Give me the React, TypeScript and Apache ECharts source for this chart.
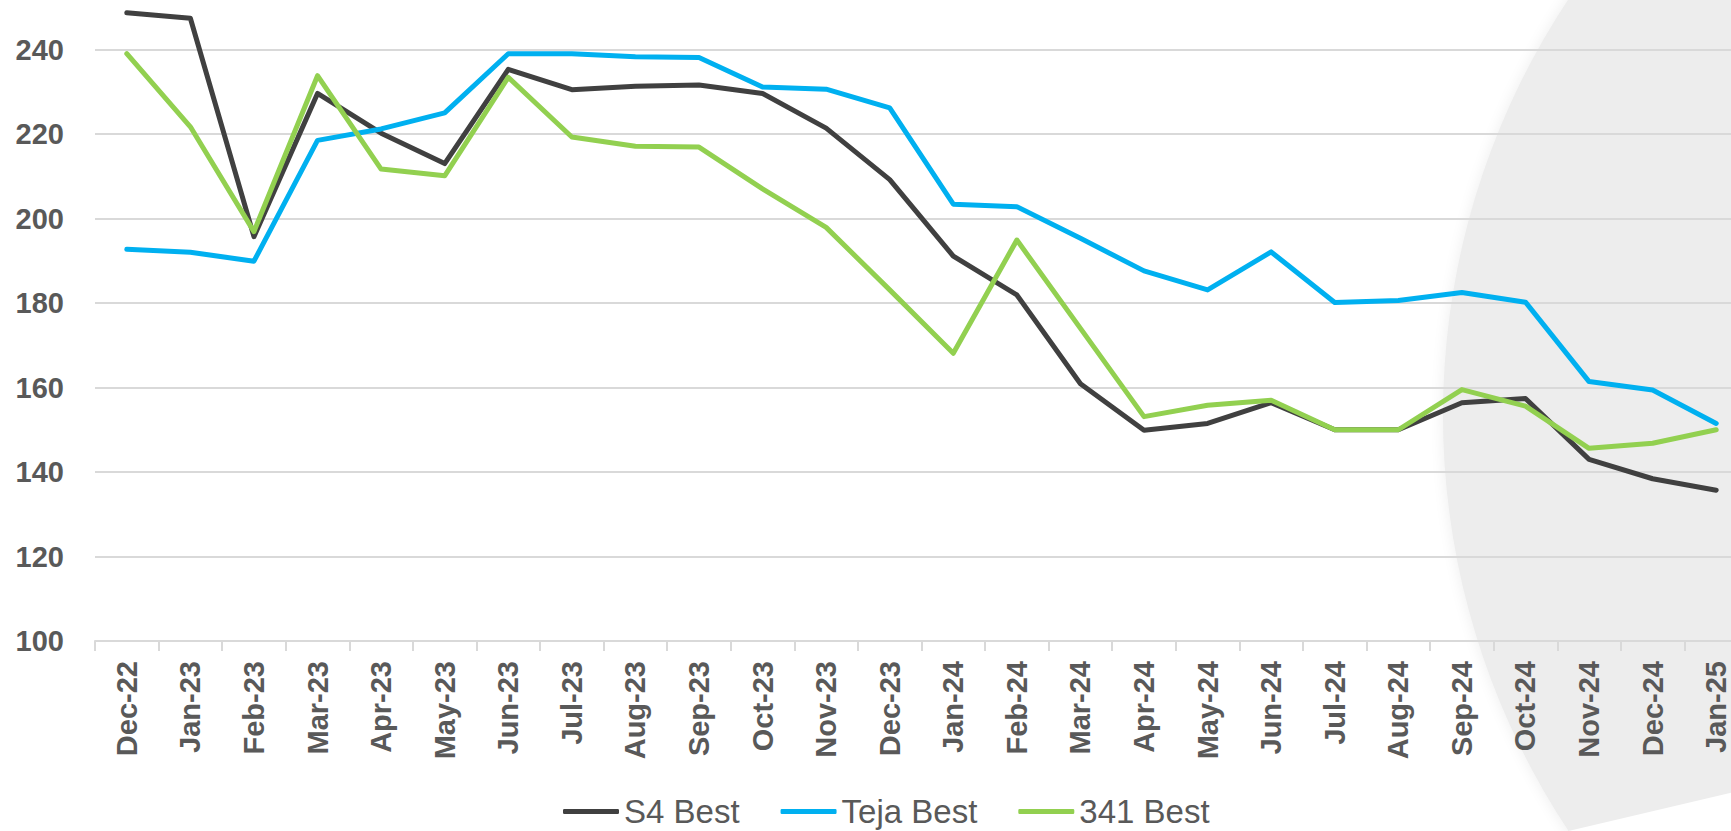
import React, { useEffect, useRef } from "react";
import * as echarts from "echarts";

const categories = [
  "Dec-22", "Jan-23", "Feb-23", "Mar-23", "Apr-23", "May-23", "Jun-23", "Jul-23",
  "Aug-23", "Sep-23", "Oct-23", "Nov-23", "Dec-23", "Jan-24", "Feb-24", "Mar-24",
  "Apr-24", "May-24", "Jun-24", "Jul-24", "Aug-24", "Sep-24", "Oct-24", "Nov-24",
  "Dec-24", "Jan-25",
];

const s4Best = [
  248.7, 247.4, 195.7, 229.6, 220.2, 213.0, 235.3, 230.5, 231.3, 231.6, 229.6, 221.4, 209.2,
  191.1, 181.9, 160.9, 149.9, 151.5, 156.4, 150.0, 150.0, 156.4, 157.4, 143.0, 138.4, 135.7,
];

const tejaBest = [
  192.7, 192.0, 189.9, 218.5, 221.2, 225.0, 239.0, 239.0, 238.3, 238.1, 231.1, 230.6, 226.2,
  203.4, 202.8, 195.3, 187.6, 183.1, 192.1, 180.1, 180.6, 182.5, 180.2, 161.4, 159.4, 151.5,
];

const best341 = [
  239.0, 221.7, 196.9, 233.8, 211.7, 210.1, 233.4, 219.3, 217.1, 216.9, 207.0, 197.9, 183.1,
  168.1, 194.9, 174.0, 153.1, 155.8, 157.0, 150.0, 150.0, 159.5, 155.6, 145.6, 146.8, 150.0,
];

const seriesNames = ["S4 Best", "Teja Best", "341 Best"];
const seriesColors = ["#404040", "#00B0F0", "#92D050"];

// The chart canvas is a bit larger than the visible frame (the plot area runs past the
// top and right edges in the reference); these offsets place it inside the frame.
const OFFSET_Y = 35;
const CHART_W = 1748;
const CHART_H = 831 + OFFSET_Y;

export default function App() {
  const ref = useRef<HTMLDivElement>(null);

  useEffect(() => {
    if (!ref.current) return;
    const chart = echarts.init(ref.current, null, { renderer: "svg" });
    const dataSets = [s4Best, tejaBest, best341];

    chart.setOption({
      animation: false,
      backgroundColor: "#ffffff",
      graphic: [
        {
          type: "circle",
          z: -10,
          silent: true,
          shape: { cx: 2195, cy: 415 + OFFSET_Y, r: 752 },
          style: { fill: "#ededed", shadowBlur: 14, shadowColor: "#ededed" },
        },
        {
          type: "polygon",
          z: -9,
          silent: true,
          shape: {
            points: [
              [1560, 833 + OFFSET_Y],
              [1760, 786 + OFFSET_Y],
              [1760, 840 + OFFSET_Y],
              [1560, 840 + OFFSET_Y],
            ],
          },
          style: { fill: "#ffffff" },
        },
      ],
      grid: {
        left: 95,
        right: 0,
        top: 0,
        bottom: 190,
        containLabel: false,
      },
      legend: {
        data: seriesNames,
        left: 563,
        top: 795 + OFFSET_Y,
        padding: 0,
        icon: "roundRect",
        itemWidth: 56,
        itemHeight: 5,
        itemGap: 41,
        textStyle: {
          fontFamily: "Liberation Sans, Arial, sans-serif",
          fontSize: 33,
          lineHeight: 30,
          color: "#595959",
        },
      },
      xAxis: {
        type: "category",
        data: categories,
        boundaryGap: true,
        axisLine: { show: true, lineStyle: { color: "#d9d9d9", width: 2 } },
        axisTick: { show: true, length: 10, lineStyle: { color: "#d9d9d9", width: 2 } },
        axisLabel: {
          interval: 0,
          rotate: 90,
          margin: 20,
          fontFamily: "Liberation Sans, Arial, sans-serif",
          fontWeight: "bold",
          fontSize: 29,
          color: "#595959",
        },
        splitLine: { show: false },
      },
      yAxis: {
        type: "value",
        min: 100,
        max: 260,
        interval: 20,
        axisLine: { show: false },
        axisTick: { show: false },
        axisLabel: {
          margin: 31,
          showMaxLabel: false,
          fontFamily: "Liberation Sans, Arial, sans-serif",
          fontWeight: "bold",
          fontSize: 29,
          color: "#595959",
        },
        splitLine: { show: true, lineStyle: { color: "#d9d9d9", width: 2 } },
      },
      series: seriesNames.map((name, i) => ({
        name,
        type: "line",
        data: dataSets[i],
        symbol: "none",
        smooth: false,
        color: seriesColors[i],
        lineStyle: { color: seriesColors[i], width: 5, cap: "round", join: "round" },
        itemStyle: { color: seriesColors[i] },
        z: 2 + i,
      })),
    });

    return () => chart.dispose();
  }, []);

  return (
    <div
      style={{
        position: "fixed",
        left: 0,
        top: 0,
        width: 1731,
        height: 831,
        overflow: "hidden",
        background: "#ffffff",
      }}
    >
      <div
        ref={ref}
        style={{ position: "absolute", left: 0, top: -OFFSET_Y, width: CHART_W, height: CHART_H }}
      />
    </div>
  );
}
